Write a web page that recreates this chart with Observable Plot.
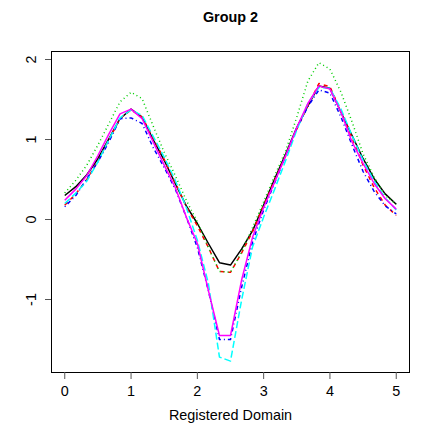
<!DOCTYPE html>
<html><head><meta charset="utf-8">
<script src="https://cdn.jsdelivr.net/npm/d3@7"></script>
<script src="https://cdn.jsdelivr.net/npm/@observablehq/plot@0.6"></script>
<style>body{margin:0;background:#fff;} svg{font-family:"Liberation Sans",Arial,Helvetica,sans-serif;}</style>
</head><body><div id="chart"></div>
<script>
const title = "Group 2";
const xLabel = "Registered Domain";
const xTicks = [0, 1, 2, 3, 4, 5];
const yTicks = [-1, 0, 1, 2];
const grid = [0, 0.1667, 0.3333, 0.5, 0.6667, 0.8333, 1, 1.1667, 1.3333, 1.5, 1.6667, 1.8333, 2, 2.1667, 2.3333, 2.5,
  2.6667, 2.8333, 3, 3.1667, 3.3333, 3.5, 3.6667, 3.8333, 4, 4.1667, 4.3333, 4.5, 4.6667, 4.8333, 5];

const curveBlack   = [0.30, 0.41, 0.56, 0.76, 1.01, 1.26, 1.38, 1.28, 1.00, 0.74, 0.45, 0.17, -0.05, -0.30, -0.54, -0.57,
  -0.37, -0.14, 0.18, 0.51, 0.82, 1.15, 1.42, 1.67, 1.64, 1.34, 1.05, 0.76, 0.51, 0.32, 0.19];
const curveRed     = [0.18, 0.32, 0.50, 0.73, 1.00, 1.26, 1.37, 1.28, 1.02, 0.75, 0.46, 0.16, -0.08, -0.35, -0.65, -0.66,
  -0.42, -0.15, 0.17, 0.49, 0.80, 1.13, 1.42, 1.70, 1.66, 1.35, 1.02, 0.68, 0.40, 0.18, 0.05];
const curveGreen   = [0.33, 0.49, 0.68, 0.93, 1.20, 1.47, 1.59, 1.51, 1.17, 0.84, 0.55, 0.24, -0.03, -0.35, -0.65, -0.66,
  -0.41, -0.10, 0.22, 0.55, 0.86, 1.28, 1.73, 1.96, 1.88, 1.59, 1.22, 0.82, 0.53, 0.30, 0.19];
const curveBlue    = [0.16, 0.30, 0.51, 0.72, 0.97, 1.26, 1.27, 1.20, 0.90, 0.65, 0.38, 0.03, -0.35, -0.89, -1.50, -1.50,
  -0.85, -0.28, 0.12, 0.46, 0.80, 1.14, 1.41, 1.62, 1.58, 1.28, 0.93, 0.60, 0.35, 0.17, 0.07];
const curveCyan    = [0.20, 0.33, 0.48, 0.72, 1.00, 1.27, 1.37, 1.30, 1.04, 0.78, 0.49, 0.15, -0.26, -0.80, -1.72, -1.77,
  -1.01, -0.34, 0.03, 0.38, 0.74, 1.12, 1.45, 1.65, 1.64, 1.38, 1.05, 0.74, 0.48, 0.27, 0.12];
const curveMagenta = [0.24, 0.38, 0.55, 0.80, 1.07, 1.32, 1.38, 1.26, 0.97, 0.68, 0.40, 0.03, -0.30, -0.89, -1.45, -1.45,
  -0.76, -0.22, 0.15, 0.47, 0.80, 1.15, 1.45, 1.67, 1.63, 1.34, 0.97, 0.70, 0.45, 0.26, 0.13];

const series = [curveBlack, curveRed, curveGreen, curveBlue, curveCyan, curveMagenta];
const colors = ["#000000", "#FF0000", "#00CD00", "#0000FF", "#00FFFF", "#FF00FF"];
const dashes = [null, "4,4", "1,3", "1,3,4,3", "7,3", null];

const lineMarks = series.map((vals, k) => {
  const rows = grid.map((x, i) => ({x, y: vals[i]}));
  return Plot.line(rows, {x: "x", y: "y", stroke: colors[k], strokeWidth: 1.5,
    strokeDasharray: dashes[k] || undefined, strokeLinejoin: "round", strokeLinecap: "butt"});
});

const chart = Plot.plot({
  width: 436, height: 436,
  marginLeft: 51, marginRight: 27, marginTop: 51, marginBottom: 64,
  style: {fontFamily: "'Liberation Sans', Arial, Helvetica, sans-serif", fontSize: "14.4px", color: "black", background: "white"},
  x: {domain: [-0.2, 5.2]},
  y: {domain: [-1.9125, 2.1]},
  marks: [
    ...lineMarks,
    Plot.frame({stroke: "black", strokeWidth: 1}),
    Plot.axisX(xTicks, {tickSize: 7, tickPadding: 6, label: null, fontSize: 14.4, stroke: "#555", tickFormat: d => String(d)}),
    Plot.axisY(yTicks, {tickSize: 6, tickPadding: 10, label: null, fontSize: 14.4, tickRotate: -90, stroke: "#555", tickFormat: d => String(d)}),
    Plot.text([xLabel], {frameAnchor: "bottom", lineAnchor: "middle", dy: 43, fontSize: 14.4, fill: "black"}),
    Plot.text([title], {frameAnchor: "top", lineAnchor: "middle", dy: -34, fontSize: 14.4, fontWeight: "bold", fill: "black"})
  ]
});
document.getElementById("chart").appendChild(chart);
</script>
</body></html>
